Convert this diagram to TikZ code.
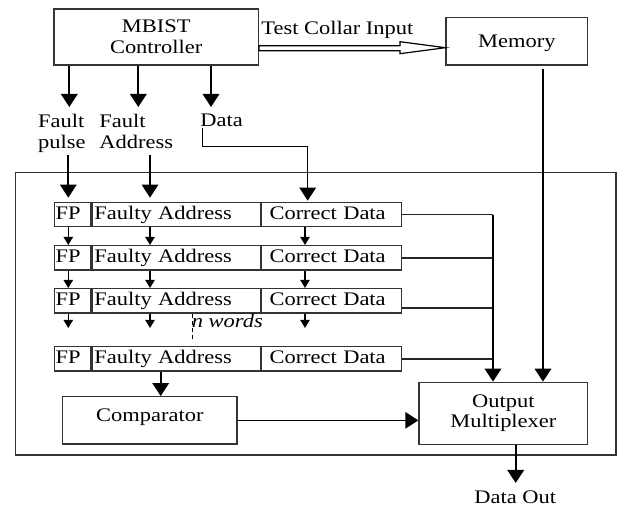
\documentclass[tikz,border=0pt]{standalone}
\usepackage{fontspec}
\setmainfont{Liberation Serif}[FakeStretch=1.17]
\usetikzlibrary{arrows.meta,calc}
\begin{document}
\begin{tikzpicture}[x=0.5pt,y=-0.5pt,
  font=\fontsize{9.6}{10.3}\selectfont,
  box/.style={draw=black!80,line width=0.65pt,inner sep=0pt,align=center},
  cell/.style={draw=black!80,line width=0.65pt,inner ysep=0pt,minimum height=12.25pt,
    anchor=north west,align=left,text height=6.5pt,text depth=1.6pt},
  lbl/.style={inner sep=0pt,align=left,font=\fontsize{9.6}{10.8}\selectfont},
  big/.style={line width=1.1pt,-{Triangle[length=6.5pt,width=8.2pt]}},
  conn/.style={line width=0.8pt,-{Triangle[length=6.5pt,width=8.2pt]}},
  small/.style={line width=0.75pt,-{Triangle[length=4pt,width=4.6pt]}},
  thinline/.style={line width=0.65pt,draw=black!85},
]
\useasboundingbox (0,0) rectangle (618,508);

% outer frame
\node[box,minimum width=300.15pt,minimum height=141.15pt] (outer) at (315.85,313.85) {};

% top blocks
\node[box,minimum width=102.15pt,minimum height=28pt] (mbist) at (156.2,37) {MBIST\\Controller};
\node[box,minimum width=70.85pt,minimum height=23.85pt,text height=8.7pt,text depth=2.1pt] (mem) at (516.85,41.15) {Memory};
\node[inner sep=0pt,anchor=base west] (tci) at (261,34.3) {Test Collar Input};

% hollow arrow
\draw[line width=0.6pt,fill=white] (mbist.east |- 0,45.7) -- (400,45.7) -- (400,41.7)
  -- (mem.west |- 0,47.7) -- (400,53.7) -- (400,50.7) -- (mbist.east |- 0,50.7) -- cycle;

% labels
\node[lbl,anchor=north west] (lfp) at (37.7,113.6) {Fault\\pulse};
\node[lbl,anchor=north west] (lfa) at (99,113.6) {Fault\\Address};
\node[lbl,anchor=north west] (ldata) at (200,114) {Data};

% columns
\coordinate (m1) at (69.3,0);
\coordinate (m2) at (138.3,0);
\coordinate (m3) at (211,0);
\coordinate (col1) at (68.3,0);
\coordinate (col2) at (150,0);
\coordinate (col3) at (305,0);
\coordinate (lab) at (0,155);
\coordinate (dcorner) at (202.7,146.7);
\coordinate (dturn) at (307.7,146.7);
\coordinate (bus) at (493,0);
\coordinate (memcol) at (543,0);
\coordinate (ccol) at (160.7,0);
\coordinate (ocol) at (515.7,0);

% MBIST outputs
\draw[big,shorten >=3.3pt] (mbist.south -| m1) -- (lfp.north -| m1);
\draw[big,shorten >=3.3pt] (mbist.south -| m2) -- (lfa.north -| m2);
\draw[big,shorten >=3.5pt] (mbist.south -| m3) -- (ldata.north -| m3);

% rows
\foreach \i/\t in {1/201.7,2/245,3/288,4/346} {
  \node[cell,inner xsep=0.5pt,text width=17pt] (fp\i) at (54,\t) {FP};
  \node[cell,inner xsep=1.2pt,text width=81.75pt] (fa\i) at (fp\i.north east) {Faulty Address};
  \node[cell,inner xsep=4pt,text width=62pt] (cd\i) at (fa\i.north east) {Correct Data};
}

% inputs to first row
\draw[conn,shorten >=2pt] (col1 |- lab) -- (fp1.north -| col1);
\draw[conn,shorten >=2pt] (col2 |- lab) -- (fa1.north -| col2);
\draw[conn,shorten >=0.5pt] (ldata.south -| dcorner) -- (dcorner) -- (dturn) -- (cd1.north -| dturn);

% between rows
\foreach \a/\b in {1/2,2/3} {
  \draw[small] (fp\a.south -| col1) -- (fp\b.north -| col1);
  \draw[small] (fa\a.south -| col2) -- (fa\b.north -| col2);
  \draw[small] (cd\a.south -| col3) -- (cd\b.north -| col3);
}
\coordinate (nw) at (0,328);
\draw[small] (fp3.south -| col1) -- (col1 |- nw);
\draw[small] (fa3.south -| col2) -- (col2 |- nw);
\draw[small] (cd3.south -| col3) -- (col3 |- nw);

% n words
\node[inner sep=0pt,anchor=base west,font=\fontsize{9.6}{10.3}\selectfont\itshape] (nwords) at (191.5,328) {n words};
\draw[line width=0.6pt,dash pattern=on 2pt off 1.6pt] (nwords.west |- fa3.south) ++(0.7,0) -- ++(0,27);

% comparator and mux
\node[box,minimum width=87.15pt,minimum height=23.65pt,text depth=5.1pt] (comp) at (149.85,420.35) {Comparator};
\node[box,minimum width=84.35pt,minimum height=31pt] (mux) at (503.35,413.3) {Output\\Multiplexer};
\node[inner sep=0pt,anchor=base] (dout) at (515.2,503.3) {Data Out};

% bus
\draw[thinline] (cd1.east) -- (cd1.east -| bus);
\draw[thinline] (cd2.east) -- (cd2.east -| bus);
\draw[thinline] ([yshift=-3.6pt]cd3.east) -- ([yshift=-3.6pt]cd3.east -| bus);
\draw[thinline] (cd4.east) -- (cd4.east -| bus);
\draw[big] (cd1.east -| bus) -- (mux.north -| bus);
\draw[big,shorten <=1.5pt] (mem.south -| memcol) -- (mux.north -| memcol);

\draw[big] (fa4.south -| ccol) -- (comp.north -| ccol);
\draw[conn] (comp.east) -- (comp.east -| mux.west);
\draw[big,shorten >=3.6pt] (mux.south -| ocol) -- (dout.north -| ocol);
\end{tikzpicture}
\end{document}
